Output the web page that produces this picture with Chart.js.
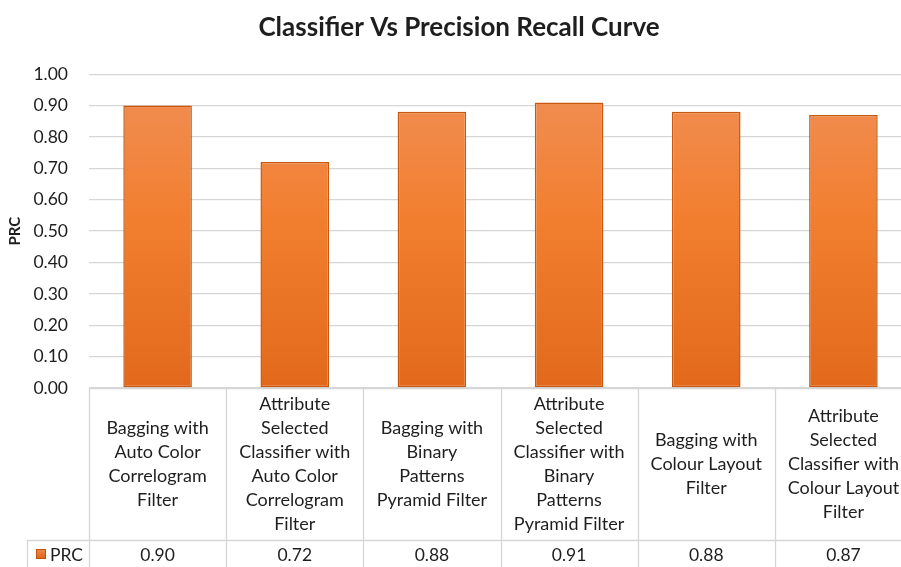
<!DOCTYPE html>
<html>
<head>
<meta charset="utf-8">
<script src="https://cdn.jsdelivr.net/npm/chart.js@4.4.1/dist/chart.umd.min.js"></script>
<style>
  html, body { margin: 0; padding: 0; background: #fff; overflow: hidden; }
  #wrap { width: 914px; height: 567px; position: relative; }
</style>
</head>
<body>
<div id="wrap"><canvas id="c" width="914" height="567"></canvas></div>
<script>
const categories = [
  ["Bagging with", "Auto Color", "Correlogram", "Filter"],
  ["Attribute", "Selected", "Classifier with", "Auto Color", "Correlogram", "Filter"],
  ["Bagging with", "Binary", "Patterns", "Pyramid Filter"],
  ["Attribute", "Selected", "Classifier with", "Binary", "Patterns", "Pyramid Filter"],
  ["Bagging with", "Colour Layout", "Filter"],
  ["Attribute", "Selected", "Classifier with", "Colour Layout", "Filter"]
];
const seriesName = "PRC";
const prcValues = [0.90, 0.72, 0.88, 0.91, 0.88, 0.87];
const valueLabels = ["0.90", "0.72", "0.88", "0.91", "0.88", "0.87"];
const yTicks = [0, 0.1, 0.2, 0.3, 0.4, 0.5, 0.6, 0.7, 0.8, 0.9, 1.0];

const FONT = "Lato, 'Open Sans', sans-serif";
const TEXT = "#1e1e1e";
const GRID = "#d6d6d6";

const dataTablePlugin = {
  id: "dataTable",
  afterDraw(chart) {
    const ctx = chart.ctx;
    const xs = chart.scales.x;
    const area = chart.chartArea;
    const top = area.bottom;
    const rowY = top + 152;
    const bottom = chart.height + 2;
    const n = categories.length;
    const step = (xs.getPixelForValue(1) - xs.getPixelForValue(0));
    const legendLeft = 27;
    ctx.save();
    ctx.strokeStyle = GRID;
    ctx.lineWidth = 1.3;
    ctx.beginPath();
    ctx.moveTo(area.left, top + 0.5);
    ctx.lineTo(area.right, top + 0.5);
    for (let i = 0; i <= n; i++) {
      const x = Math.round(xs.getPixelForValue(0) - step / 2 + i * step) + 0.5;
      ctx.moveTo(x, top);
      ctx.lineTo(x, bottom);
    }
    ctx.moveTo(legendLeft + 0.5, rowY);
    ctx.lineTo(legendLeft + 0.5, bottom);
    ctx.moveTo(legendLeft, rowY + 0.5);
    ctx.lineTo(area.right, rowY + 0.5);
    ctx.stroke();

    ctx.fillStyle = TEXT;
    ctx.textAlign = "center";
    ctx.textBaseline = "middle";
    const lh = 24;
    for (let i = 0; i < n; i++) {
      const cx = xs.getPixelForValue(i);
      const lines = categories[i];
      const cy = (top + rowY) / 2;
      const start = cy - (lines.length - 1) * lh / 2;
      ctx.font = "18px " + FONT;
      lines.forEach((ln, k) => ctx.fillText(ln, cx, start + k * lh));
      ctx.font = "17.5px " + FONT;
      ctx.fillText(valueLabels[i], cx, rowY + 15);
    }
    const g = ctx.createLinearGradient(0, rowY + 9, 0, rowY + 20);
    g.addColorStop(0, "#f08a4b");
    g.addColorStop(1, "#d9600f");
    ctx.fillStyle = g;
    ctx.fillRect(36, rowY + 9, 10, 10);
    ctx.strokeStyle = "#c0530c";
    ctx.lineWidth = 1;
    ctx.strokeRect(36.5, rowY + 9.5, 9, 9);
    ctx.fillStyle = TEXT;
    ctx.textAlign = "left";
    ctx.font = "17.5px " + FONT;
    ctx.fillText(seriesName, 50, rowY + 15);
    ctx.restore();
  }
};

new Chart(document.getElementById("c"), {
  type: "bar",
  data: {
    labels: categories,
    datasets: [{
      label: seriesName,
      data: prcValues,
      backgroundColor: (c) => {
        const a = c.chart.chartArea;
        if (!a) return "#f07f2e";
        const g = c.chart.ctx.createLinearGradient(0, a.top, 0, a.bottom);
        g.addColorStop(0, "#f08f57");
        g.addColorStop(0.45, "#f27f30");
        g.addColorStop(1, "#e2691c");
        return g;
      },
      borderColor: "#c8580f",
      borderWidth: 1.5,
      borderSkipped: false,
      categoryPercentage: 1.0,
      barPercentage: 0.5
    }]
  },
  options: {
    responsive: false,
    animation: false,
    devicePixelRatio: 1,
    layout: { padding: { left: 6, right: 2, top: 0, bottom: 179 } },
    plugins: {
      legend: { display: false },
      tooltip: { enabled: false },
      title: {
        display: true,
        text: "Classifier Vs Precision Recall Curve",
        color: TEXT,
        font: { family: FONT, size: 26, weight: "bold" },
        padding: { top: 12, bottom: 31 }
      }
    },
    scales: {
      x: {
        display: false
      },
      y: {
        min: 0,
        max: 1,
        afterBuildTicks: (s) => { s.ticks = yTicks.map(v => ({ value: v })); },
        afterFit: (s) => { s.width = 83; },
        border: { display: false },
        grid: { color: GRID, lineWidth: 1.3, drawTicks: false },
        ticks: {
          padding: 21,
          color: TEXT,
          font: { family: FONT, size: 17.5 },
          callback: (v) => Number(v).toFixed(2)
        },
        title: {
          display: true,
          text: "PRC",
          color: TEXT,
          font: { family: FONT, size: 15, weight: "bold" },
          padding: { top: 0, bottom: 0 }
        }
      }
    }
  },
  plugins: [dataTablePlugin]
});
</script>
</body>
</html>
